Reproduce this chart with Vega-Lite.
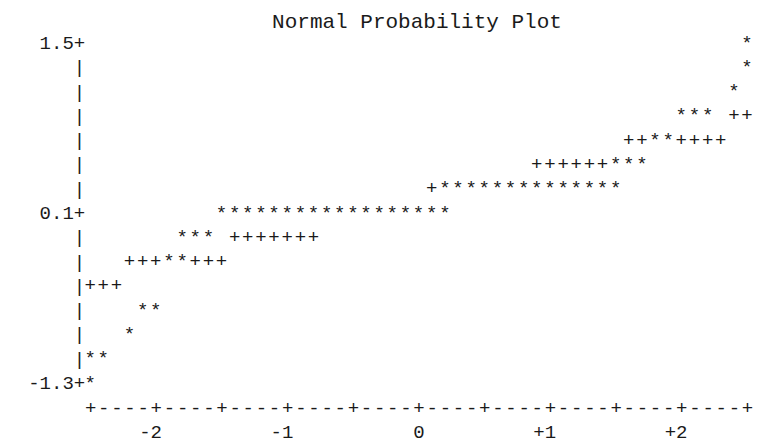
{
  "$schema": "https://vega.github.io/schema/vega-lite/v6.json",
  "width": 670,
  "height": 340,
  "autosize": {"type": "none"},
  "padding": {"left": 77, "top": 42.5, "right": 15, "bottom": 60.5},
  "background": "white",
  "title": {"text": "Normal Probability Plot", "font": "Liberation Mono", "fontSize": 21, "fontWeight": "normal", "color": "#1a1a1a", "anchor": "middle", "dx": 5, "offset": -15, "baseline": "alphabetic"},
  "config": {"view": {"stroke": null}, "font": "Liberation Mono"},
  "data": {"values": [
    {"quantile": 2.5, "value": 1.5, "symbol": "*"},
    {"quantile": 2.5, "value": 1.3, "symbol": "*"},
    {"quantile": 2.4, "value": 1.1, "symbol": "*"},
    {"quantile": 2.0, "value": 0.9, "symbol": "*"},
    {"quantile": 2.1, "value": 0.9, "symbol": "*"},
    {"quantile": 2.2, "value": 0.9, "symbol": "*"},
    {"quantile": 2.4, "value": 0.9, "symbol": "+"},
    {"quantile": 2.5, "value": 0.9, "symbol": "+"},
    {"quantile": 1.6, "value": 0.7, "symbol": "+"},
    {"quantile": 1.7, "value": 0.7, "symbol": "+"},
    {"quantile": 1.8, "value": 0.7, "symbol": "*"},
    {"quantile": 1.9, "value": 0.7, "symbol": "*"},
    {"quantile": 2.0, "value": 0.7, "symbol": "+"},
    {"quantile": 2.1, "value": 0.7, "symbol": "+"},
    {"quantile": 2.2, "value": 0.7, "symbol": "+"},
    {"quantile": 2.3, "value": 0.7, "symbol": "+"},
    {"quantile": 0.9, "value": 0.5, "symbol": "+"},
    {"quantile": 1.0, "value": 0.5, "symbol": "+"},
    {"quantile": 1.1, "value": 0.5, "symbol": "+"},
    {"quantile": 1.2, "value": 0.5, "symbol": "+"},
    {"quantile": 1.3, "value": 0.5, "symbol": "+"},
    {"quantile": 1.4, "value": 0.5, "symbol": "+"},
    {"quantile": 1.5, "value": 0.5, "symbol": "*"},
    {"quantile": 1.6, "value": 0.5, "symbol": "*"},
    {"quantile": 1.7, "value": 0.5, "symbol": "*"},
    {"quantile": 0.1, "value": 0.3, "symbol": "+"},
    {"quantile": 0.2, "value": 0.3, "symbol": "*"},
    {"quantile": 0.3, "value": 0.3, "symbol": "*"},
    {"quantile": 0.4, "value": 0.3, "symbol": "*"},
    {"quantile": 0.5, "value": 0.3, "symbol": "*"},
    {"quantile": 0.6, "value": 0.3, "symbol": "*"},
    {"quantile": 0.7, "value": 0.3, "symbol": "*"},
    {"quantile": 0.8, "value": 0.3, "symbol": "*"},
    {"quantile": 0.9, "value": 0.3, "symbol": "*"},
    {"quantile": 1.0, "value": 0.3, "symbol": "*"},
    {"quantile": 1.1, "value": 0.3, "symbol": "*"},
    {"quantile": 1.2, "value": 0.3, "symbol": "*"},
    {"quantile": 1.3, "value": 0.3, "symbol": "*"},
    {"quantile": 1.4, "value": 0.3, "symbol": "*"},
    {"quantile": 1.5, "value": 0.3, "symbol": "*"},
    {"quantile": -1.5, "value": 0.1, "symbol": "*"},
    {"quantile": -1.4, "value": 0.1, "symbol": "*"},
    {"quantile": -1.3, "value": 0.1, "symbol": "*"},
    {"quantile": -1.2, "value": 0.1, "symbol": "*"},
    {"quantile": -1.1, "value": 0.1, "symbol": "*"},
    {"quantile": -1.0, "value": 0.1, "symbol": "*"},
    {"quantile": -0.9, "value": 0.1, "symbol": "*"},
    {"quantile": -0.8, "value": 0.1, "symbol": "*"},
    {"quantile": -0.7, "value": 0.1, "symbol": "*"},
    {"quantile": -0.6, "value": 0.1, "symbol": "*"},
    {"quantile": -0.5, "value": 0.1, "symbol": "*"},
    {"quantile": -0.4, "value": 0.1, "symbol": "*"},
    {"quantile": -0.3, "value": 0.1, "symbol": "*"},
    {"quantile": -0.2, "value": 0.1, "symbol": "*"},
    {"quantile": -0.1, "value": 0.1, "symbol": "*"},
    {"quantile": 0.0, "value": 0.1, "symbol": "*"},
    {"quantile": 0.1, "value": 0.1, "symbol": "*"},
    {"quantile": 0.2, "value": 0.1, "symbol": "*"},
    {"quantile": -1.8, "value": -0.1, "symbol": "*"},
    {"quantile": -1.7, "value": -0.1, "symbol": "*"},
    {"quantile": -1.6, "value": -0.1, "symbol": "*"},
    {"quantile": -1.4, "value": -0.1, "symbol": "+"},
    {"quantile": -1.3, "value": -0.1, "symbol": "+"},
    {"quantile": -1.2, "value": -0.1, "symbol": "+"},
    {"quantile": -1.1, "value": -0.1, "symbol": "+"},
    {"quantile": -1.0, "value": -0.1, "symbol": "+"},
    {"quantile": -0.9, "value": -0.1, "symbol": "+"},
    {"quantile": -0.8, "value": -0.1, "symbol": "+"},
    {"quantile": -2.2, "value": -0.3, "symbol": "+"},
    {"quantile": -2.1, "value": -0.3, "symbol": "+"},
    {"quantile": -2.0, "value": -0.3, "symbol": "+"},
    {"quantile": -1.9, "value": -0.3, "symbol": "*"},
    {"quantile": -1.8, "value": -0.3, "symbol": "*"},
    {"quantile": -1.7, "value": -0.3, "symbol": "+"},
    {"quantile": -1.6, "value": -0.3, "symbol": "+"},
    {"quantile": -1.5, "value": -0.3, "symbol": "+"},
    {"quantile": -2.5, "value": -0.5, "symbol": "+"},
    {"quantile": -2.4, "value": -0.5, "symbol": "+"},
    {"quantile": -2.3, "value": -0.5, "symbol": "+"},
    {"quantile": -2.1, "value": -0.7, "symbol": "*"},
    {"quantile": -2.0, "value": -0.7, "symbol": "*"},
    {"quantile": -2.2, "value": -0.9, "symbol": "*"},
    {"quantile": -2.5, "value": -1.1, "symbol": "*"},
    {"quantile": -2.4, "value": -1.1, "symbol": "*"},
    {"quantile": -2.5, "value": -1.3, "symbol": "*"}
  ]},
  "mark": {"type": "text", "font": "Liberation Mono", "fontSize": 19, "baseline": "middle", "align": "center", "color": "#1a1a1a"},
  "encoding": {
    "x": {
      "field": "quantile", "type": "quantitative",
      "scale": {"domain": [-2.6, 2.5], "nice": false, "zero": false},
      "axis": {
        "values": [-2.5, -2.4, -2.3, -2.2, -2.1, -2.0, -1.9, -1.8, -1.7, -1.6, -1.5, -1.4, -1.3, -1.2, -1.1, -1.0, -0.9, -0.8, -0.7, -0.6, -0.5, -0.4, -0.3, -0.2, -0.1, 0, 0.1, 0.2, 0.3, 0.4, 0.5, 0.6, 0.7, 0.8, 0.9, 1.0, 1.1, 1.2, 1.3, 1.4, 1.5, 1.6, 1.7, 1.8, 1.9, 2.0, 2.1, 2.2, 2.3, 2.4, 2.5],
        "labelExpr": "abs(datum.value*2 - round(datum.value*2)) > 0.01 ? '-' : datum.value == -2 ? ['+', '-2'] : datum.value == -1 ? ['+', '-1'] : datum.value == 0 ? ['+', '0'] : datum.value == 1 ? ['+', '+1'] : datum.value == 2 ? ['+', '+2'] : '+'",
        "title": null, "domain": false, "ticks": false, "tickSize": 0, "grid": false,
        "labelPadding": 30.8, "labelFont": "Liberation Mono", "labelFontSize": 19, "labelColor": "#1a1a1a",
        "labelAlign": "right", "labelOffset": 5.7, "labelBaseline": "alphabetic", "labelLineHeight": 24.3,
        "labelOverlap": false, "labelFlush": false, "labelAngle": 0
      }
    },
    "y": {
      "field": "value", "type": "quantitative",
      "scale": {"domain": [-1.3, 1.5], "nice": false, "zero": false},
      "axis": {
        "values": [1.5, 1.3, 1.1, 0.9, 0.7, 0.5, 0.3, 0.1, -0.1, -0.3, -0.5, -0.7, -0.9, -1.1, -1.3],
        "labelExpr": "datum.value == 1.5 ? '1.5+' : datum.value == 0.1 ? '0.1+' : datum.value == -1.3 ? '-1.3+' : '|'",
        "title": null, "domain": false, "ticks": false, "tickSize": 0, "grid": false,
        "labelPadding": -7.7, "labelFont": "Liberation Mono", "labelFontSize": 19, "labelColor": "#1a1a1a",
        "labelAlign": "right", "labelBaseline": "middle", "labelOverlap": false, "labelFlush": false
      }
    },
    "text": {"field": "symbol", "type": "nominal"}
  }
}
